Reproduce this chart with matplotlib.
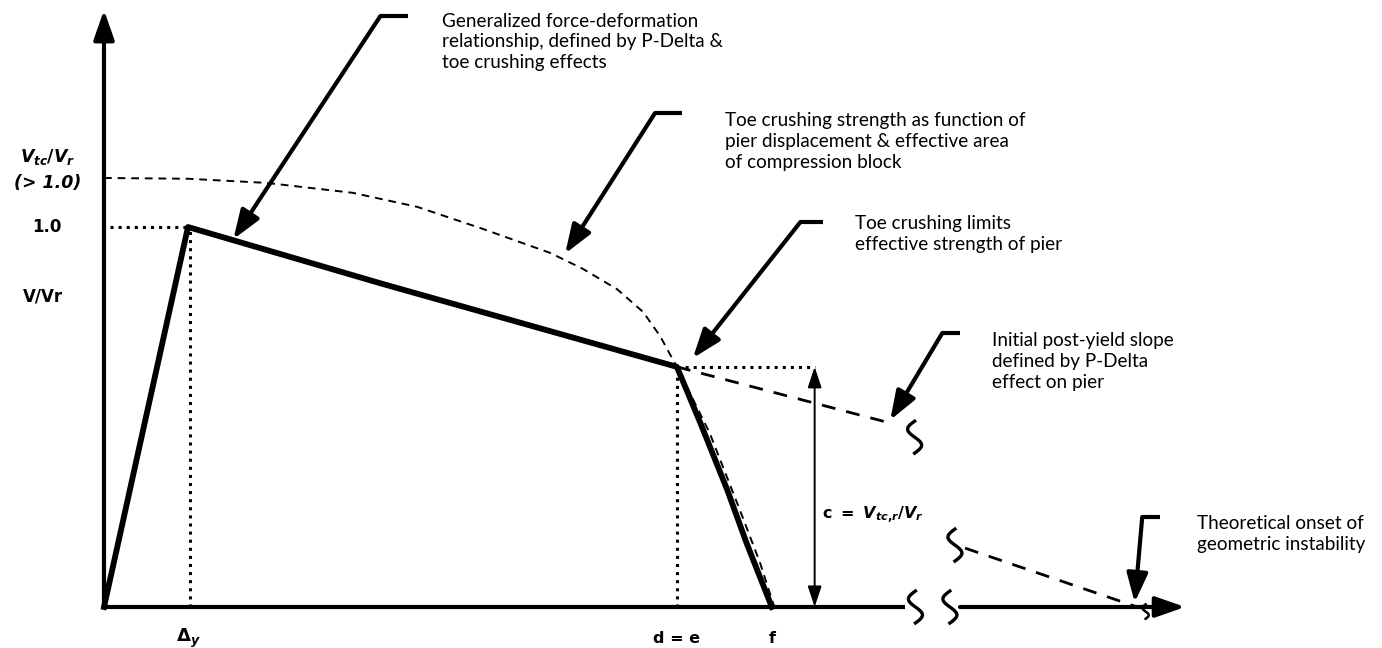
import numpy as np
import matplotlib.pyplot as plt

plt.rcParams['font.family'] = ['Lato', 'DejaVu Sans']
plt.rcParams['mathtext.fontset'] = 'custom'
plt.rcParams['mathtext.it'] = 'DejaVu Sans:italic:bold'
plt.rcParams['mathtext.rm'] = 'DejaVu Sans:bold'
plt.rcParams['mathtext.bf'] = 'DejaVu Sans:bold'

# --- schematic data: x = displacement / Δy, y = V / Vr ---
# generalized force-deformation curve (thick line)
curve_x = [0.0, 1.0, 3.32, 6.82, 7.10, 7.42, 7.65, 7.95]
curve_y = [0.0, 1.0, 0.85, 0.632, 0.484, 0.308, 0.168, 0.0]

# toe crushing strength (thin dashed)
toe_x = [0.0, 1.0, 1.94, 2.96, 3.73, 4.51, 5.31, 5.70, 6.11, 6.42, 6.62, 6.77, 6.82,
         7.21, 7.57, 7.81, 7.98]
toe_y = [1.129, 1.127, 1.116, 1.090, 1.053, 0.995, 0.932, 0.890, 0.836, 0.776, 0.713,
         0.652, 0.632, 0.458, 0.255, 0.116, 0.0]

# initial post-yield P-Delta slope (dashed), before and after the axis break
pd_x = [6.82, 9.36]
pd_y = [0.632, 0.484]
pd2_x = [10.25, 12.30]
pd2_y = [0.155, 0.0]

delta_y = 1.0      # yield displacement
d_e = 6.82         # point d = e
f_pt = 7.95        # point f
c_val = 0.632      # Vtc,r / Vr
c_arrow_x = 8.46

axis_break = [9.54, 10.19]   # end of first x segment, start of second
x_end = 12.87
y_end = 1.571

# annotation callouts: (text, text x, text y, bar end x, elbow x, elbow y, tip x, tip y)
notes = [
    ("Generalized force-deformation\nrelationship, defined by P-Delta &\ntoe crushing effects",
     4.02, 1.487, 3.62, 3.29, 1.555, 1.54, 0.968),
    ("Toe crushing strength as function of\npier displacement & effective area\nof compression block",
     7.39, 1.224, 6.88, 6.56, 1.300, 5.49, 0.930),
    ("Toe crushing limits\neffective strength of pier",
     8.94, 0.982, 8.56, 8.29, 1.013, 7.01, 0.655),
    ("Initial post-yield slope\ndefined by P-Delta\neffect on pier",
     10.57, 0.645, 10.19, 9.98, 0.721, 9.36, 0.492),
    ("Theoretical onset of\ngeometric instability",
     13.01, 0.192, 12.57, 12.36, 0.237, 12.27, 0.012),
]

# break-mark positions (x, y, size)
breaks = [(9.66, 0.0, 1.0), (10.07, 0.0, 1.0), (9.65, 0.447, 1.0), (10.13, 0.163, 1.0),
          (12.40, -0.012, 0.45)]

fig = plt.figure(figsize=(13.82, 6.48), dpi=100)
ax = fig.add_axes([0, 0, 1, 1])
ax.set_xlim(-1.238, 15.214)
ax.set_ylim(-0.1079, 1.5974)
ax.axis('off')

K = 'black'
head = dict(color=K, shrinkA=0, shrinkB=0)

# axes
ax.annotate('', xy=(0, y_end), xytext=(0, 0),
            arrowprops=dict(arrowstyle='-|>,head_length=1.0,head_width=0.35',
                            lw=3, mutation_scale=18, **head))
ax.plot([0, axis_break[0]], [0, 0], color=K, lw=3, solid_capstyle='butt')
ax.annotate('', xy=(x_end, 0), xytext=(axis_break[1], 0),
            arrowprops=dict(arrowstyle='-|>,head_length=1.0,head_width=0.35',
                            lw=3, mutation_scale=18, **head))

# curves
ax.plot(toe_x, toe_y, color=K, lw=1.4, dashes=(4, 3))
ax.plot(curve_x, curve_y, color=K, lw=4.2, solid_joinstyle='round')
ax.plot(pd_x, pd_y, color=K, lw=2, dashes=(5, 4))
ax.plot(pd2_x, pd2_y, color=K, lw=2, dashes=(5, 4))

# dotted guides
ax.plot([0.07, delta_y], [1.0, 1.0], color=K, lw=2.2, ls=':')
ax.plot([delta_y + 0.02, delta_y + 0.02], [0, 1.0], color=K, lw=2.2, ls=':')
ax.plot([d_e, d_e], [0, c_val], color=K, lw=2.2, ls=':')
ax.plot([d_e, c_arrow_x], [c_val, c_val], color=K, lw=2.2, ls=':')

# c double arrow
ax.annotate('', xy=(c_arrow_x, 0), xytext=(c_arrow_x, c_val),
            arrowprops=dict(arrowstyle='<|-|>,head_length=0.9,head_width=0.3',
                            lw=1.4, mutation_scale=14, **head))

# break marks
inv = ax.transData.inverted()
for bx, by, s in breaks:
    t = np.linspace(-1, 1, 40)
    px = 7 * s * np.sin(np.pi * t)
    py = -16 * s * t
    x0, y0 = ax.transData.transform((bx, by))
    pts = inv.transform(np.column_stack([x0 + px, y0 + py]))
    ax.plot(pts[:, 0], pts[:, 1], color=K, lw=2.4 if s > 0.6 else 1.8)

# callouts
for txt, tx, ty, bx, ex, ey, ax_, ay in notes:
    ax.plot([bx, ex], [ey, ey], color=K, lw=3, solid_capstyle='butt')
    ax.annotate('', xy=(ax_, ay), xytext=(ex, ey),
                arrowprops=dict(arrowstyle='-|>,head_length=1.1,head_width=0.4',
                                lw=3, mutation_scale=16, **head))
    ax.text(tx, ty, txt, ha='left', va='center', fontsize=13.6, linespacing=1.28)

# labels
bold = dict(fontweight='bold', family='DejaVu Sans')
ax.text(-0.667, 1.184, r'$V_{tc}/V_r$', ha='center', va='center', fontsize=12.5)
ax.text(-0.667, 1.116, '(> 1.0)', ha='center', va='center', fontsize=12.5,
        fontstyle='italic', **bold)
ax.text(-0.679, 1.0, '1.0', ha='center', va='center', fontsize=12, **bold)
ax.text(-0.726, 0.818, 'V/Vr', ha='center', va='center', fontsize=12, **bold)
ax.text(delta_y, -0.082, r'$\mathit{\Delta}_y$', ha='center', va='center', fontsize=13)
ax.text(d_e, -0.082, 'd = e', ha='center', va='center', fontsize=11.5, **bold)
ax.text(f_pt, -0.082, 'f', ha='center', va='center', fontsize=11.5, **bold)
ax.text(c_arrow_x + 0.09, 0.242, r'$\mathrm{c\ =\ }V_{tc{,}r}/V_r$', ha='left',
        va='center', fontsize=11.5)

fig.savefig('out.png', dpi=100)
